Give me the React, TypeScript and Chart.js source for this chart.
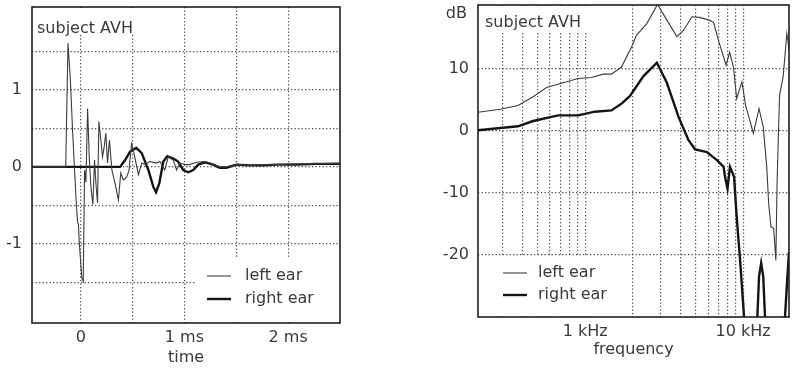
import React, { useEffect, useRef } from 'react';
import { Chart, registerables } from 'chart.js';

Chart.register(...registerables);

// ---------- shared text ----------
const panelTitle = 'subject AVH';
const seriesNames = ['left ear', 'right ear'];

// ---------- left panel: impulse responses (time in ms) ----------
const timeLeftEar = [-0.47, -0.145, -0.123, -0.1, -0.079, -0.06, -0.043, -0.031, -0.022, -0.014, 0.011, 0.024, 0.037, 0.05, 0.066, 0.082, 0.098, 0.117, 0.133, 0.146, 0.162, 0.175, 0.194, 0.21, 0.226, 0.242, 0.258, 0.277, 0.3, 0.33, 0.363, 0.386, 0.41, 0.444, 0.465, 0.49, 0.51, 0.556, 0.588, 0.62, 0.668, 0.73, 0.764, 0.81, 0.844, 0.892, 0.925, 0.957, 1.005, 1.05, 1.117, 1.197, 1.245, 1.34, 1.4, 1.5, 1.63, 1.76, 1.89, 2.08, 2.27, 2.5];
const ampLeftEar = [0, 0, 1.61, 1.13, 0.48, -0.04, -0.47, -0.71, -0.75, -0.99, -1.45, -1.49, -0.04, -0.2, 0.76, 0.13, -0.26, -0.49, 0.09, -0.21, -0.47, 0.59, 0.35, 0.13, 0.26, 0.44, 0.05, 0.35, -0.04, -0.21, -0.43, -0.08, -0.17, -0.13, -0.05, 0.3, 0.2, -0.1, 0.05, 0.03, 0.07, 0.05, 0.07, -0.04, 0.13, 0.09, -0.04, 0.05, 0.03, 0.03, 0.06, 0.07, 0.05, 0, 0, 0.03, 0.02, 0.03, 0.03, 0.04, 0.04, 0.05];
const timeRightEar = [-0.47, 0.38, 0.428, 0.476, 0.534, 0.588, 0.652, 0.7, 0.726, 0.758, 0.796, 0.835, 0.892, 0.94, 0.988, 1.037, 1.085, 1.133, 1.197, 1.277, 1.34, 1.406, 1.5, 1.63, 1.76, 1.89, 2.08, 2.27, 2.5];
const ampRightEar = [0, 0, 0.09, 0.2, 0.25, 0.18, -0.04, -0.26, -0.33, -0.21, 0.07, 0.14, 0.11, 0.07, -0.04, -0.07, -0.04, 0.03, 0.06, 0.03, -0.01, -0.01, 0.03, 0.02, 0.02, 0.03, 0.03, 0.04, 0.04];
const timeGridValues = [0, 0.5, 1, 1.5, 2];
const timeLabelValues = [0, 1, 2];
const timeLabelTexts = ['0', '1 ms', '2 ms'];
const ampGridValues = [-1.5, -1, -0.5, 0, 0.5, 1, 1.5];
const ampLabelValues = [-1, 0, 1];
const ampLabelTexts = ['-1', '0', '1'];
const timeAxisTitle = 'time';

// ---------- right panel: transfer functions (Hz, dB) ----------
const freqLeftEar = [210, 290, 376, 469, 570, 708, 903, 1096, 1300, 1467, 1698, 1964, 2112, 2456, 2871, 3285, 3808, 4190, 4740, 5300, 6030, 6500, 6980, 7800, 8210, 8680, 9100, 9810, 10400, 10800, 11600, 12600, 13400, 14100, 14500, 15000, 15600, 16100, 16400, 17000, 17900, 18900, 19300, 19500];
const dbLeftEar = [3.0, 3.5, 4.1, 5.5, 7.0, 7.7, 8.45, 8.6, 9.15, 9.15, 10.3, 13.5, 15.4, 17.3, 20.4, 17.9, 15.2, 16.2, 18.4, 18.3, 17.9, 17.5, 14.6, 10.6, 12.7, 10.3, 5.2, 7.9, 3.9, 2.5, -0.4, 3.6, 0.65, -5.8, -11.7, -15.5, -15.7, -20.9, -8, 5.8, 8.7, 15.7, 14.1, 13.0];
const freqRightEar = [210, 376, 469, 675, 903, 1152, 1467, 1700, 1918, 2335, 2844, 3285, 3895, 4510, 4970, 5900, 6820, 7520, 7680, 7960, 8250, 8760, 9100, 9570, 10100, 10400, 12250, 12600, 13000, 13400, 13800, 18300, 19000, 19500];
const dbRightEar = [0.1, 0.75, 1.6, 2.5, 2.5, 3.1, 3.3, 4.4, 5.6, 8.8, 11.0, 7.8, 2.3, -1.5, -3.0, -3.4, -4.7, -5.8, -7.4, -9.3, -5.8, -7.4, -13.9, -20.9, -29.5, -36, -31, -23.5, -21.3, -23.5, -31, -31, -24, -19.5];
const freqGridValues = [300, 400, 500, 600, 700, 800, 900, 1000, 2000, 3000, 4000, 5000, 6000, 7000, 8000, 9000, 10000];
const freqLabelValues = [1000, 10000];
const freqLabelTexts = ['1 kHz', '10 kHz'];
const dbGridValues = [-20, -10, 0, 10];
const dbLabelValues = [-20, -10, 0, 10];
const dbLabelTexts = ['-20', '-10', '0', '10'];
const dbUnit = 'dB';
const freqAxisTitle = 'frequency';

// ---------- styles ----------
const FONT = '"DejaVu Sans", sans-serif';
const TEXT = '#3a3a3a';
const THIN = '#3c3c3c';
const THICK = '#141414';
const GRID = '#4a4a4a';
const FRAME = '#1e1e1e';

const pts = (xs: number[], ys: number[]) => xs.map((x, i) => ({ x, y: ys[i] }));
const labelFor = (vals: number[], texts: string[]) => (v: any) => {
  const i = vals.findIndex((u) => Math.abs(u - Number(v)) < 1e-9);
  return i >= 0 ? texts[i] : '';
};

const panelDecor = {
  id: 'panelDecor',
  beforeDatasetsDraw(chart: any, _a: any, o: any) {
    const { ctx, chartArea: a } = chart;
    ctx.save();
    ctx.fillStyle = '#ffffff';
    for (const m of o.masks) ctx.fillRect(a.left + m[0], a.top + m[1], m[2], m[3]);
    ctx.restore();
  },
  afterDatasetsDraw(chart: any, _a: any, o: any) {
    const { ctx, chartArea: a } = chart;
    ctx.save();
    ctx.strokeStyle = FRAME;
    ctx.lineWidth = 1.6;
    ctx.strokeRect(a.left, a.top, a.right - a.left, a.bottom - a.top);
    ctx.font = `16px ${FONT}`;
    ctx.fillStyle = TEXT;
    ctx.textBaseline = 'middle';
    ctx.textAlign = 'left';
    ctx.fillText(panelTitle, a.left + o.titleX, a.top + o.titleY);
    chart.data.datasets.forEach((ds: any, i: number) => {
      const y = a.top + o.legendY + i * o.legendGap;
      const x0 = a.left + o.legendX;
      ctx.strokeStyle = ds.borderColor;
      ctx.lineWidth = ds.borderWidth;
      ctx.beginPath();
      ctx.moveTo(x0, y);
      ctx.lineTo(x0 + o.sampleLen, y);
      ctx.stroke();
      ctx.fillText(ds.label, x0 + o.sampleLen + o.textGap, y);
    });
    if (o.unit) {
      ctx.textAlign = 'right';
      ctx.fillText(o.unit, a.left - o.unitDx, o.unitY);
    }
    ctx.restore();
  },
};

const tickFont = { family: FONT, size: 16 };
const fitX = (h: number) => (s: any) => { s.height = h; s.paddingLeft = 0; s.paddingRight = 0; s.paddingTop = 0; s.paddingBottom = 0; };
const fitY = (w: number) => (s: any) => { s.width = w; s.paddingTop = 0; s.paddingBottom = 0; s.paddingLeft = 0; s.paddingRight = 0; };

function leftConfig(): any {
  return {
    type: 'line',
    data: {
      datasets: [
        { label: seriesNames[0], data: pts(timeLeftEar, ampLeftEar), borderColor: THIN, borderWidth: 1.1 },
        { label: seriesNames[1], data: pts(timeRightEar, ampRightEar), borderColor: THICK, borderWidth: 2.4 },
      ],
    },
    options: {
      animation: false,
      responsive: false,
      devicePixelRatio: 1,
      layout: { padding: { left: 0, right: 20, top: 7, bottom: 0 } },
      elements: { point: { radius: 0 }, line: { tension: 0 } },
      plugins: {
        legend: { display: false },
        tooltip: { enabled: false },
        panelDecor: {
          masks: [[1, 1, 115, 27], [163, 252, 144, 63]],
          titleX: 5, titleY: 22,
          legendX: 175, legendY: 269, legendGap: 23, sampleLen: 24, textGap: 14,
        },
      },
      scales: {
        x: {
          type: 'linear', min: -0.47, max: 2.5,
          afterBuildTicks: (s: any) => { s.ticks = timeGridValues.map((v) => ({ value: v })); },
          afterFit: fitX(48),
          grid: { color: GRID, lineWidth: 1.2, drawTicks: false },
          border: { display: false, dash: [1.3, 2.2] },
          ticks: { autoSkip: false, maxRotation: 0, padding: 5, color: TEXT, font: tickFont, callback: labelFor(timeLabelValues, timeLabelTexts) },
          title: { display: true, text: timeAxisTitle, color: TEXT, font: tickFont, padding: { top: 0, bottom: 4 } },
        },
        y: {
          type: 'linear', min: -2.03, max: 2.08,
          afterBuildTicks: (s: any) => { s.ticks = ampGridValues.map((v) => ({ value: v })); },
          afterFit: fitY(32),
          grid: { color: GRID, lineWidth: 1.2, drawTicks: false },
          border: { display: false, dash: [1.3, 2.2] },
          ticks: { autoSkip: false, padding: 10, color: TEXT, font: tickFont, callback: labelFor(ampLabelValues, ampLabelTexts) },
        },
      },
    },
    plugins: [panelDecor],
  };
}

function rightConfig(): any {
  return {
    type: 'line',
    data: {
      datasets: [
        { label: seriesNames[0], data: pts(freqLeftEar, dbLeftEar), borderColor: THIN, borderWidth: 1.1 },
        { label: seriesNames[1], data: pts(freqRightEar, dbRightEar), borderColor: THICK, borderWidth: 2.4 },
      ],
    },
    options: {
      animation: false,
      responsive: false,
      devicePixelRatio: 1,
      layout: { padding: { left: 0, right: 7, top: 5, bottom: 0 } },
      elements: { point: { radius: 0 }, line: { tension: 0 } },
      plugins: {
        legend: { display: false },
        tooltip: { enabled: false },
        panelDecor: {
          masks: [[1, 1, 125, 26], [1, 252, 142, 59]],
          titleX: 7, titleY: 18,
          legendX: 25, legendY: 268, legendGap: 22, sampleLen: 24, textGap: 11,
          unit: dbUnit, unitDx: 11, unitY: 14,
        },
      },
      scales: {
        x: {
          type: 'logarithmic', min: 210, max: 19500,
          afterBuildTicks: (s: any) => { s.ticks = freqGridValues.map((v) => ({ value: v })); },
          afterFit: fitX(54),
          grid: { color: GRID, lineWidth: 1.2, drawTicks: false },
          border: { display: false, dash: [1.3, 2.2] },
          ticks: { autoSkip: false, maxRotation: 0, padding: 5, color: TEXT, font: tickFont, callback: labelFor(freqLabelValues, freqLabelTexts) },
          title: { display: true, text: freqAxisTitle, color: TEXT, font: tickFont, padding: { top: 0, bottom: 12 } },
        },
        y: {
          type: 'linear', min: -30, max: 20.3,
          afterBuildTicks: (s: any) => { s.ticks = dbGridValues.map((v) => ({ value: v })); },
          afterFit: fitY(58),
          grid: { color: GRID, lineWidth: 1.2, drawTicks: false },
          border: { display: false, dash: [1.3, 2.2] },
          ticks: { autoSkip: false, padding: 9, color: TEXT, font: tickFont, callback: labelFor(dbLabelValues, dbLabelTexts) },
        },
      },
    },
    plugins: [panelDecor],
  };
}

function Panel({ makeConfig, left, width }: { makeConfig: () => any; left: number; width: number }) {
  const ref = useRef<HTMLCanvasElement>(null);
  useEffect(() => {
    const chart = new Chart(ref.current as HTMLCanvasElement, makeConfig());
    return () => chart.destroy();
  }, [makeConfig]);
  return (
    <canvas
      ref={ref}
      width={width}
      height={371}
      style={{ position: 'absolute', left, top: 0, width, height: 371, display: 'block' }}
    />
  );
}

export default function App() {
  return (
    <div style={{ position: 'fixed', left: 0, top: 0, width: 796, height: 371, background: '#ffffff', overflow: 'hidden' }}>
      <Panel makeConfig={leftConfig} left={0} width={360} />
      <Panel makeConfig={rightConfig} left={420} width={376} />
    </div>
  );
}
